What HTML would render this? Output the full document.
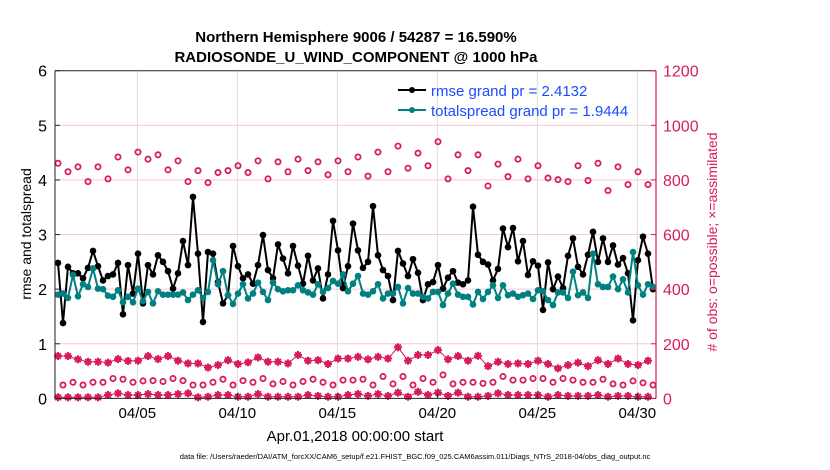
<!DOCTYPE html>
<html><head><meta charset="utf-8"><style>
html,body{margin:0;padding:0;background:#fff;}
svg{display:block;font-family:"Liberation Sans",sans-serif;}
</style></head><body>
<svg id="chart" width="830" height="470" viewBox="0 0 830 470" xmlns="http://www.w3.org/2000/svg">
<rect width="830" height="470" fill="#fff"/>
<text x="356" y="42" text-anchor="middle" font-size="15" font-weight="bold">Northern Hemisphere 9006 / 54287 = 16.590%</text>
<text x="356" y="62" text-anchor="middle" font-size="15" font-weight="bold">RADIOSONDE_U_WIND_COMPONENT @ 1000 hPa</text>
<g id="grid"></g>
<g id="marks"></g>
<g id="axes"></g>
<text transform="translate(31,234) rotate(-90)" text-anchor="middle" font-size="14">rmse and totalspread</text>
<text transform="translate(717,242) rotate(-90)" text-anchor="middle" font-size="14" fill="#d81b5a"># of obs: o=possible; ×=assimilated</text>
<text x="355" y="441" text-anchor="middle" font-size="15">Apr.01,2018 00:00:00 start</text>
<text x="415" y="459" text-anchor="middle" font-size="7.5">data file: /Users/raeder/DAI/ATM_forcXX/CAM6_setup/f.e21.FHIST_BGC.f09_025.CAM6assim.011/Diags_NTrS_2018-04/obs_diag_output.nc</text>
<g>
<line x1="398" y1="90" x2="426" y2="90" stroke="#000" stroke-width="2"/>
<circle cx="412" cy="90" r="3" fill="#000"/>
<text x="431" y="96" font-size="15" fill="#1a4cff">rmse grand pr = 2.4132</text>
<line x1="398" y1="110" x2="426" y2="110" stroke="#008080" stroke-width="2"/>
<circle cx="412" cy="110" r="3" fill="#008080"/>
<text x="431" y="116" font-size="15" fill="#1a4cff">totalspread grand pr = 1.9444</text>
</g>
</svg>
<script>
const rmse=[2.48,1.38,2.41,2.29,2.29,2.2,2.39,2.7,2.42,2.16,2.24,2.27,2.48,1.54,2.44,1.92,2.65,1.74,2.44,2.27,2.62,2.5,2.33,2.01,2.29,2.88,2.44,3.69,2.65,1.4,
2.68,2.65,2.13,1.74,1.89,2.79,2.42,2.2,2.27,2.1,2.44,2.99,2.35,2.2,2.82,2.56,2.29,2.79,2.43,2.1,2.61,2.16,2.38,1.83,2.27,3.25,2.71,2.02,2.42,3.2,
2.71,2.39,2.5,3.52,2.62,2.35,2.24,1.8,2.7,2.47,2.24,2.55,2.3,1.8,2.09,2.13,2.44,2.01,2.21,2.33,2.12,2.09,2.16,3.51,2.63,2.5,2.45,2.16,2.37,3.11,
2.77,3.12,2.51,2.88,2.26,2.51,2.43,1.62,2.49,2.0,2.23,2.02,2.61,2.93,2.41,2.27,2.63,3.05,2.5,2.93,2.5,2.8,2.45,2.57,2.29,1.43,2.53,2.96,2.65,2.0];
const spread=[1.9,1.92,1.84,2.26,1.87,2.09,2.04,2.38,2.01,2.0,1.88,1.86,1.98,1.76,1.86,1.76,2.01,1.78,1.95,1.74,1.96,1.9,1.9,1.9,1.9,1.94,1.8,1.9,1.98,1.84,
1.95,2.53,2.09,2.33,1.89,1.73,1.92,2.09,1.83,1.92,2.12,1.95,1.8,2.12,2.0,1.96,1.98,1.98,2.07,1.98,1.94,1.9,2.09,1.95,2.02,2.15,2.1,2.27,1.96,2.1,
2.24,1.92,1.9,1.96,2.09,1.83,1.92,1.92,2.04,1.74,2.02,1.92,1.92,1.86,1.83,1.95,1.95,1.71,1.92,2.1,1.9,1.86,1.86,1.72,1.95,1.82,1.95,2.07,1.84,2.07,
1.89,1.92,1.86,1.89,1.92,1.82,1.98,1.96,1.8,1.71,1.94,1.94,1.84,2.32,1.89,1.94,1.84,2.65,2.09,2.04,2.04,2.23,2.0,2.18,1.94,2.68,2.07,1.9,2.09,2.04];
const possibleTop=[861,830,848,794,848,804,884,837,902,876,892,837,870,794,834,790,827,834,852,827,870,804,866,830,876,834,866,819,870,830,
884,814,902,830,924,843,898,852,940,804,892,834,892,778,858,812,876,804,852,807,801,794,852,798,861,761,848,783,830,783];
const assimUpper=[155,155,143,134,134,131,144,137,138,155,144,155,138,128,128,113,122,140,126,132,150,134,134,128,159,138,140,126,146,146,
152,143,152,146,187,138,159,159,177,143,155,138,156,118,134,126,128,126,138,126,110,122,131,118,140,126,146,126,122,138];
const possibleLow=[49,59,49,59,59,73,70,59,64,65,62,73,65,49,49,59,70,49,65,59,73,53,62,49,62,70,59,49,67,67,
70,49,80,53,80,49,73,59,86,53,59,59,55,59,80,67,67,73,73,59,73,67,59,59,70,53,49,64,57,49];
const assimLow=[4,4,4,4,4,12.5,18.6,12.5,12.5,16,12.5,12.5,16,18.6,4,6,12.5,12.5,6,6,16,6,6,6,6,12.5,9,6,6,12.5,
16,9,16,9,21,6,24,12.5,21,9,21,6,6,9,18.6,12.5,12.5,12.5,12.5,6,12.5,9,9,9,12.5,6,9,9,6,6];
const leftTicks=[0,1,2,3,4,5,6];
const rightTicks=[0,200,400,600,800,1000,1200];
const dateTicks=[4,9,14,19,24,29];
const dateLabels=["04/05","04/10","04/15","04/20","04/25","04/30"];

const L=55,R=656,T=70.7,B=398.4,PINK="#d81b5a",TEAL="#008080";
const xS=t=>58+20*t;
const yL=v=>B-(B-T)*v/6;
const yR=v=>B-(B-T)*v/1200;
const NS="http://www.w3.org/2000/svg";
function mk(parent,tag,attrs){const e=document.createElementNS(NS,tag);for(const k in attrs)e.setAttribute(k,attrs[k]);parent.appendChild(e);return e;}
const grid=document.getElementById('grid'),marks=document.getElementById('marks'),axes=document.getElementById('axes');

leftTicks.forEach(v=>{if(v>0&&v<6){const g=mk(grid,'line',{x1:L,x2:R,y1:yL(v),y2:yL(v),stroke:'#f5c9d6','stroke-width':1});

}});
dateTicks.forEach(d=>{const x=xS(d)-0.7;const g=mk(grid,'line',{x1:x,x2:x,y1:T,y2:B,stroke:'#dcdcdc','stroke-width':1});

});

function star(x,y,c){const g=mk(marks,'g',{stroke:c,'stroke-width':2});


const r=4;for(let a=0;a<4;a++){const an=a*Math.PI/4;mk(g,'line',{x1:x-r*Math.cos(an),y1:y-r*Math.sin(an),x2:x+r*Math.cos(an),y2:y+r*Math.sin(an)});}}
function pline(vals,tf,yf,c,w,name){const p=mk(marks,'polyline',{points:vals.map((v,i)=>xS(tf(i))+','+yf(v)).join(' '),fill:'none',stroke:c,'stroke-width':w});

}

possibleTop.forEach((v,i)=>{const c=mk(marks,'circle',{cx:xS(i/2),cy:yR(v),r:2.6,fill:'none',stroke:PINK,'stroke-width':1.8});

});
possibleLow.forEach((v,i)=>{const c=mk(marks,'circle',{cx:xS(i/2+0.25),cy:yR(v),r:2.6,fill:'none',stroke:PINK,'stroke-width':1.8});

});
pline(assimUpper,i=>i/2,yR,PINK,1,'assimilated-upper-line');
assimUpper.forEach((v,i)=>star(xS(i/2),yR(v),PINK));
pline(assimLow,i=>i/2,yR,PINK,1,'assimilated-lower-line');
assimLow.forEach((v,i)=>star(xS(i/2),yR(v),PINK));

pline(rmse,i=>i/4,yL,'#000',2,'rmse-line');
rmse.forEach((v,i)=>{const c=mk(marks,'circle',{cx:xS(i/4),cy:yL(v),r:3.3,fill:'#000'});

});
pline(spread,i=>i/4,yL,TEAL,2,'totalspread-line');
spread.forEach((v,i)=>{const c=mk(marks,'circle',{cx:xS(i/4),cy:yL(v),r:3.3,fill:TEAL});

});

const la=mk(axes,'line',{x1:L,x2:L,y1:T,y2:B,stroke:'#222','stroke-width':1});


const ra=mk(axes,'line',{x1:R,x2:R,y1:T,y2:B,stroke:PINK,'stroke-width':1.2});


const ta=mk(axes,'line',{x1:L,x2:R,y1:T,y2:T,stroke:'#222','stroke-width':1});


const ba=mk(axes,'line',{x1:L,x2:R,y1:B,y2:B,stroke:'#222','stroke-width':1});


leftTicks.forEach(v=>{const y=yL(v);mk(axes,'line',{x1:L,x2:L+5,y1:y,y2:y,stroke:'#222'});
const t=mk(axes,'text',{x:L-8,y:y+6,'text-anchor':'end','font-size':16});t.textContent=v;

});
rightTicks.forEach(v=>{const y=yR(v);mk(axes,'line',{x1:R-5,x2:R,y1:y,y2:y,stroke:PINK});
const t=mk(axes,'text',{x:R+7,y:y+6,'font-size':16,fill:PINK});t.textContent=v;

});
dateTicks.forEach((d,i)=>{const x=xS(d)-0.7;mk(axes,'line',{x1:x,x2:x,y1:B-5,y2:B,stroke:'#222'});
const t=mk(axes,'text',{x:x,y:418,'text-anchor':'middle','font-size':15});t.textContent=dateLabels[i];

});
</script>
</body></html>
